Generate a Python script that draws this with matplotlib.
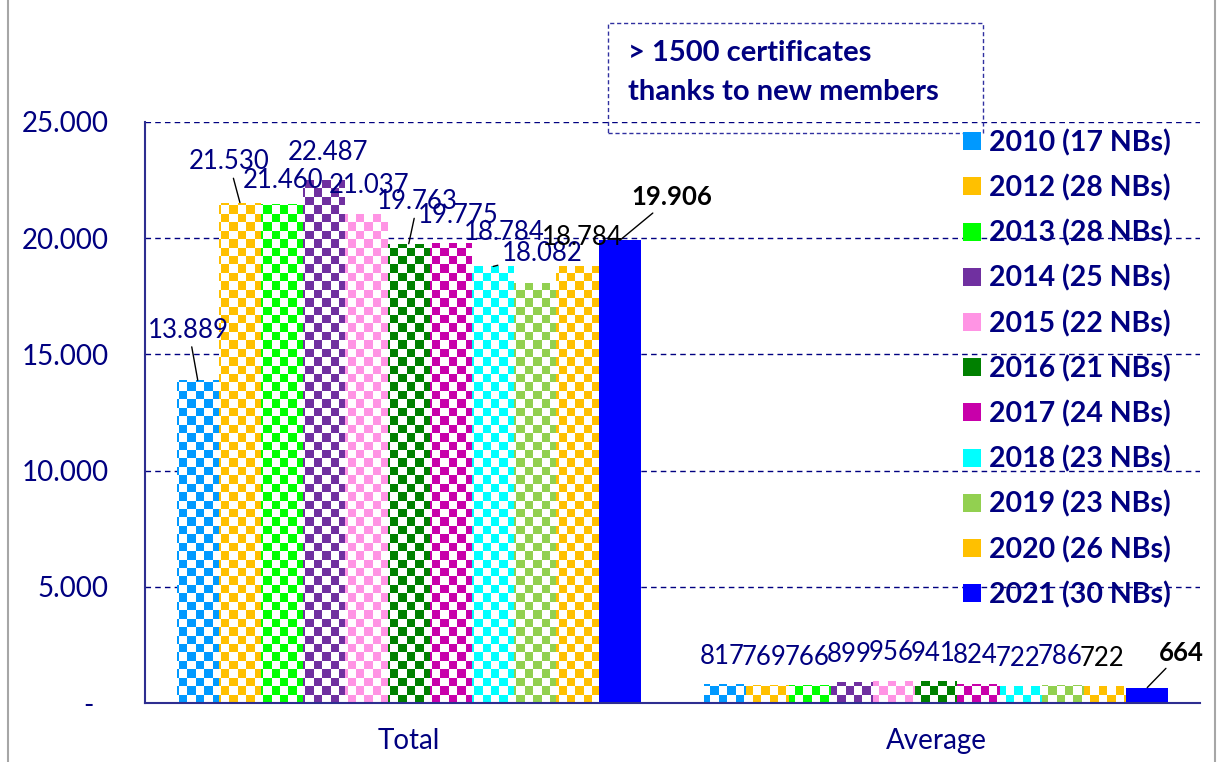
import numpy as np
import matplotlib.pyplot as plt
from matplotlib.patches import Rectangle
from matplotlib.path import Path
from matplotlib.text import OffsetFrom

plt.rcParams['font.family'] = ['Lato', 'DejaVu Sans']

# --- data ---
categories = ['Total', 'Average']
years = ['2010 (17 NBs)', '2012 (28 NBs)', '2013 (28 NBs)', '2014 (25 NBs)',
         '2015 (22 NBs)', '2016 (21 NBs)', '2017 (24 NBs)', '2018 (23 NBs)',
         '2019 (23 NBs)', '2020 (26 NBs)', '2021 (30 NBs)']
total = [13889, 21530, 21460, 22487, 21037, 19763, 19775, 18784, 18082, 18784, 19906]
average = [817, 769, 766, 899, 956, 941, 824, 722, 786, 722, 664]
colors = ['#0099FF', '#FFC000', '#00FF00', '#7030A0', '#FF94E4', '#008000',
          '#C800AA', '#00FFFF', '#92D050', '#FFC000', '#0000FF']
yticks = [0, 5000, 10000, 15000, 20000, 25000]

navy = '#000080'

# label placement (pixel offsets from top of own bar, index of bar the leader points to)
tot_lab = [(-9, 50, 0), (-11, 41, 1), (1, 24, None), (4, 28, None), (3, 29, None),
           (9, 42, 5), (7, 28, None), (11, 34, None), (7, 29, 7), (5, 29, None),
           (52, 43, 10)]
avg_lab = [(-3, 28, None)] * 10 + [(34, 35, 10)]


def fmt(v):
    return f"{v:,}".replace(',', '.')


fig = plt.figure(figsize=(12.21, 7.62), dpi=100)
W, H = 1221, 762
ax = fig.add_axes([145 / W, 1 - 703 / H, (1200 - 145) / W, (703 - 122) / H])

# bars
x = np.arange(len(categories))
bw = 0.08
conts = []
for i, yr in enumerate(years):
    c = ax.bar(x + (i - 5) * bw, [total[i], average[i]], bw, color=colors[i],
               label=yr, zorder=2, linewidth=0)
    conts.append(c)

# checker pattern on all bars except 2021
ny, nx = 69, 125
ii, jj = np.indices((ny, nx))
chk = np.zeros((ny, nx, 4))
chk[(ii + jj) % 2 == 1] = [1, 1, 1, 1]
paths = []
for c in conts[:-1]:
    for b in c:
        paths.append(b.get_path().transformed(b.get_patch_transform()))
clip = Path.make_compound_path(*paths)
im = ax.imshow(chk, extent=(-0.5, 1.5, 0, 25000), aspect='auto',
               interpolation='nearest', origin='lower', zorder=2.5)
im.set_clip_path(clip, transform=ax.transData)

ax.set_xlim(-0.5, 1.5)
ax.set_ylim(0, 25000)

# data labels
for g, (vals, labs) in enumerate([(total, tot_lab), (average, avg_lab)]):
    for i, v in enumerate(vals):
        dx, dy, lead = labs[i]
        own = conts[i][g]
        col = navy
        wt = 'normal'
        if i == 9:
            col = 'black'
        if i == 10:
            col = 'black'
            wt = 'bold'
        tgt = conts[lead][g] if lead is not None else own
        ap = dict(arrowstyle='-', color='black', lw=1, shrinkA=1, shrinkB=0) if lead is not None else None
        ax.annotate(fmt(v), xy=(0.5, 1), xycoords=tgt,
                    xytext=(dx, dy), textcoords=OffsetFrom(own, (0.5, 1), unit='pixels'),
                    ha='center', va='center', fontsize=18.5, color=col, fontweight=wt,
                    arrowprops=ap, zorder=5)

# axes styling
ax.set_yticks(yticks)
ax.set_yticklabels(['-  ' if t == 0 else fmt(t) for t in yticks])
ax.set_xticks(x)
ax.set_xticklabels(categories)
ax.tick_params(axis='y', length=0, pad=26, labelsize=20, labelcolor=navy)
ax.tick_params(axis='x', length=0, pad=18, labelsize=20, labelcolor=navy)
ax.grid(axis='y', color=navy, linestyle=(0, (4, 3)), lw=1)
ax.set_axisbelow(True)
for s in ['top', 'right']:
    ax.spines[s].set_visible(False)
ax.spines['left'].set_color('#2E2E90')
ax.spines['bottom'].set_color('#2E2E90')
ax.spines['left'].set_linewidth(1.5)
ax.spines['bottom'].set_linewidth(1.5)

# legend
leg = fig.legend(handles=conts, labels=years, loc='upper left',
                 bbox_to_anchor=(963 / W, 1 - 129 / H), frameon=False,
                 prop={'size': 20.5, 'weight': 'bold'}, labelcolor=navy,
                 handlelength=0.63, handleheight=0.6, handletextpad=0.3,
                 labelspacing=0.635, borderpad=0, borderaxespad=0)

# text box
fig.add_artist(Rectangle((608 / W, 1 - 133 / H), (983 - 608) / W, (133 - 23) / H,
                         transform=fig.transFigure, fill=False, edgecolor='#3030A0',
                         lw=1, linestyle=(0, (3, 2))))
fig.text(628 / W, 1 - 53 / H, '> 1500 certificates', ha='left', va='center',
         fontsize=21, fontweight='bold', color=navy)
fig.text(628 / W, 1 - 92 / H, 'thanks to new members', ha='left', va='center',
         fontsize=21, fontweight='bold', color=navy)

# chart frame
fig.add_artist(Rectangle((8 / W, -0.02), (1215 - 8) / W, 1.04, transform=fig.transFigure,
                         fill=False, edgecolor='#A6A6A6', lw=1.5))

fig.savefig('out.png', dpi=100)
